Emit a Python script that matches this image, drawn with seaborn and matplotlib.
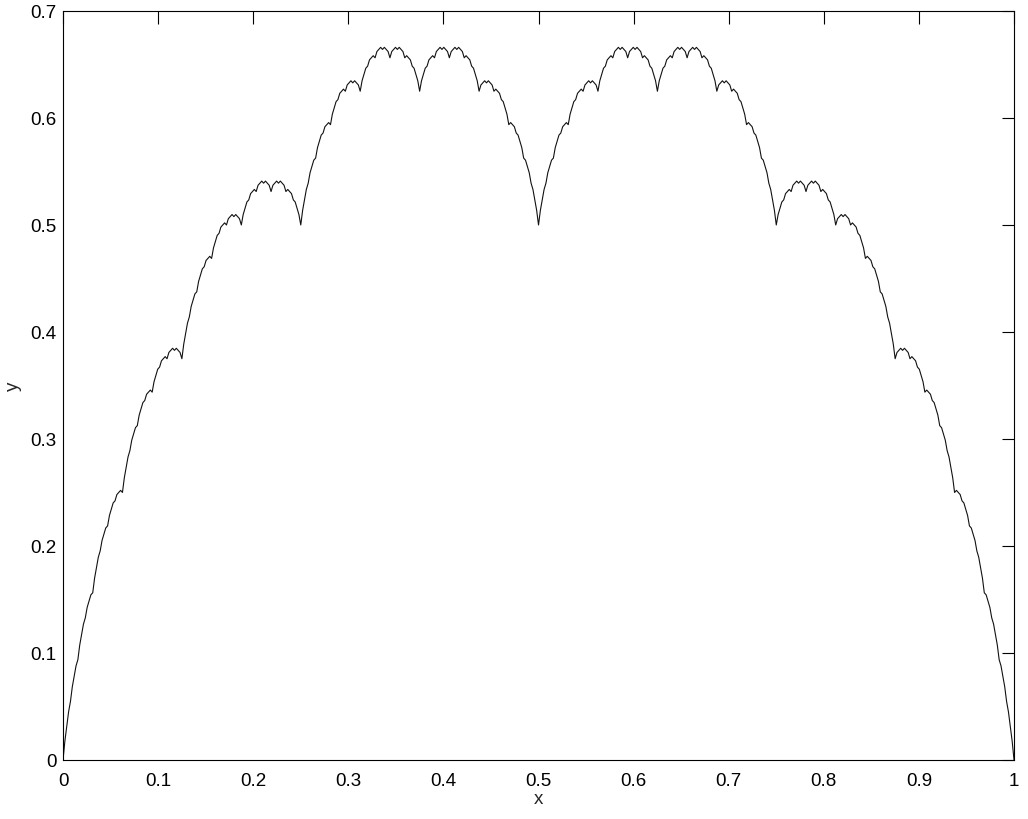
import numpy as np
import pandas as pd
import matplotlib
matplotlib.use("Agg")
import matplotlib.pyplot as plt
import seaborn as sns

# curve heights read at x = k/512 (in units of 1/512)
y_num = [0, 9, 16, 23, 28, 35, 40, 45, 48, 55, 60, 65, 68, 73, 76, 79,
         80, 87, 92, 97, 100, 105, 108, 111, 112, 117, 120, 123, 124, 127, 128, 129,
         128, 135, 140, 145, 148, 153, 156, 159, 160, 165, 168, 171, 172, 175, 176, 177,
         176, 181, 184, 187, 188, 191, 192, 193, 192, 195, 196, 197, 196, 197, 196, 195,
         192, 199, 204, 209, 212, 217, 220, 223, 224, 229, 232, 235, 236, 239, 240, 241,
         240, 245, 248, 251, 252, 255, 256, 257, 256, 259, 260, 261, 260, 261, 260, 259,
         256, 261, 264, 267, 268, 271, 272, 273, 272, 275, 276, 277, 276, 277, 276, 275,
         272, 275, 276, 277, 276, 277, 276, 275, 272, 273, 272, 271, 268, 267, 264, 261,
         256, 263, 268, 273, 276, 281, 284, 287, 288, 293, 296, 299, 300, 303, 304, 305,
         304, 309, 312, 315, 316, 319, 320, 321, 320, 323, 324, 325, 324, 325, 324, 323,
         320, 325, 328, 331, 332, 335, 336, 337, 336, 339, 340, 341, 340, 341, 340, 339,
         336, 339, 340, 341, 340, 341, 340, 339, 336, 337, 336, 335, 332, 331, 328, 325,
         320, 325, 328, 331, 332, 335, 336, 337, 336, 339, 340, 341, 340, 341, 340, 339,
         336, 339, 340, 341, 340, 341, 340, 339, 336, 337, 336, 335, 332, 331, 328, 325,
         320, 323, 324, 325, 324, 325, 324, 323, 320, 321, 320, 319, 316, 315, 312, 309,
         304, 305, 304, 303, 300, 299, 296, 293, 288, 287, 284, 281, 276, 273, 268, 263,
         256,
         263, 268, 273, 276, 281, 284, 287, 288, 293, 296, 299, 300, 303, 304, 305, 304,
         309, 312, 315, 316, 319, 320, 321, 320, 323, 324, 325, 324, 325, 324, 323, 320,
         325, 328, 331, 332, 335, 336, 337, 336, 339, 340, 341, 340, 341, 340, 339, 336,
         339, 340, 341, 340, 341, 340, 339, 336, 337, 336, 335, 332, 331, 328, 325, 320,
         325, 328, 331, 332, 335, 336, 337, 336, 339, 340, 341, 340, 341, 340, 339, 336,
         339, 340, 341, 340, 341, 340, 339, 336, 337, 336, 335, 332, 331, 328, 325, 320,
         323, 324, 325, 324, 325, 324, 323, 320, 321, 320, 319, 316, 315, 312, 309, 304,
         305, 304, 303, 300, 299, 296, 293, 288, 287, 284, 281, 276, 273, 268, 263, 256,
         261, 264, 267, 268, 271, 272, 273, 272, 275, 276, 277, 276, 277, 276, 275, 272,
         275, 276, 277, 276, 277, 276, 275, 272, 273, 272, 271, 268, 267, 264, 261, 256,
         259, 260, 261, 260, 261, 260, 259, 256, 257, 256, 255, 252, 251, 248, 245, 240,
         241, 240, 239, 236, 235, 232, 229, 224, 223, 220, 217, 212, 209, 204, 199, 192,
         195, 196, 197, 196, 197, 196, 195, 192, 193, 192, 191, 188, 187, 184, 181, 176,
         177, 176, 175, 172, 171, 168, 165, 160, 159, 156, 153, 148, 145, 140, 135, 128,
         129, 128, 127, 124, 123, 120, 117, 112, 111, 108, 105, 100, 97, 92, 87, 80,
         79, 76, 73, 68, 65, 60, 55, 48, 45, 40, 35, 28, 23, 16, 9, 0]
x_ticks = [0, 0.1, 0.2, 0.3, 0.4, 0.5, 0.6, 0.7, 0.8, 0.9, 1]
x_labels = ["0", "0.1", "0.2", "0.3", "0.4", "0.5", "0.6", "0.7", "0.8", "0.9", "1"]
y_ticks = [0, 0.1, 0.2, 0.3, 0.4, 0.5, 0.6, 0.7]
y_labels = ["0", "0.1", "0.2", "0.3", "0.4", "0.5", "0.6", "0.7"]

df = pd.DataFrame({"x": np.arange(len(y_num)) / 512.0,
                   "y": np.array(y_num) / 512.0})

sns.set_style("white")
plt.rcParams['font.family'] = ['Liberation Sans', 'DejaVu Sans']

fig = plt.figure(figsize=(10.28, 8.2), dpi=100)
ax = fig.add_axes([0.0613, 0.072, 0.9251, 0.9134])
sns.lineplot(x="x", y="y", data=df, ax=ax, color="#111111", linewidth=0.8, sort=False)

ax.set_xlim(0, 1)
ax.set_ylim(0, 0.7)
ax.set_xticks(x_ticks)
ax.set_xticklabels(x_labels)
ax.set_yticks(y_ticks)
ax.set_yticklabels(y_labels)
ax.tick_params(direction="in", length=9, width=0.8, top=True, right=True,
               labelsize=13.5, colors="black")
ax.tick_params(axis="x", pad=8.5)
ax.tick_params(axis="y", pad=4.5)
for s in ax.spines.values():
    s.set_color("black")
    s.set_linewidth(0.8)
ax.set_xlabel("x", fontsize=13.5, labelpad=1)
ax.set_ylabel("y", fontsize=13.5, labelpad=6)

fig.savefig("out.png", dpi=100)
